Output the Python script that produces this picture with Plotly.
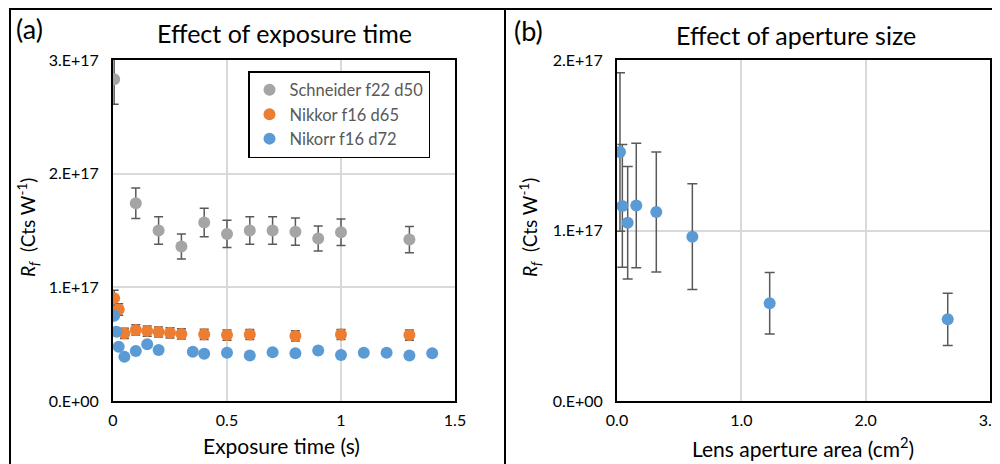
import plotly.graph_objects as go

# ---------------- data ----------------
# Panel (a): effect of exposure time
schneider_t = [0.005, 0.1, 0.2, 0.3, 0.4, 0.5, 0.6, 0.7, 0.8, 0.9, 1.0, 1.3]
schneider_rf = [2.83e17, 1.74e17, 1.50e17, 1.36e17, 1.57e17, 1.47e17, 1.50e17, 1.50e17, 1.49e17, 1.43e17, 1.485e17, 1.42e17]
schneider_err = [0.22e17, 0.135e17, 0.12e17, 0.11e17, 0.125e17, 0.12e17, 0.12e17, 0.12e17, 0.12e17, 0.11e17, 0.117e17, 0.115e17]

nikkor_t = [0.005, 0.025, 0.05, 0.1, 0.15, 0.2, 0.25, 0.3, 0.4, 0.5, 0.6, 0.8, 1.0, 1.3]
nikkor_rf = [0.905e17, 0.805e17, 0.595e17, 0.625e17, 0.615e17, 0.607e17, 0.600e17, 0.590e17, 0.587e17, 0.580e17, 0.585e17, 0.572e17, 0.585e17, 0.580e17]
nikkor_err = [0.07e17, 0.05e17, 0.045e17, 0.045e17, 0.045e17, 0.045e17, 0.045e17, 0.045e17, 0.045e17, 0.045e17, 0.045e17, 0.045e17, 0.045e17, 0.045e17]

nikorr_t = [0.005, 0.015, 0.025, 0.05, 0.1, 0.15, 0.2, 0.35, 0.4, 0.5, 0.6, 0.7, 0.8, 0.9, 1.0, 1.1, 1.2, 1.3, 1.4]
nikorr_rf = [0.75e17, 0.61e17, 0.478e17, 0.39e17, 0.44e17, 0.499e17, 0.449e17, 0.434e17, 0.416e17, 0.425e17, 0.40e17, 0.428e17, 0.42e17, 0.444e17, 0.405e17, 0.425e17, 0.425e17, 0.40e17, 0.42e17]

# Panel (b): effect of aperture size
aperture_area = [0.024, 0.043, 0.086, 0.155, 0.316, 0.606, 1.228, 2.66]
aperture_rf = [1.46e17, 1.144e17, 1.046e17, 1.147e17, 1.108e17, 0.964e17, 0.573e17, 0.479e17]
aperture_err = [0.465e17, 0.36e17, 0.33e17, 0.365e17, 0.352e17, 0.31e17, 0.18e17, 0.153e17]

series_names = ["Schneider f22 d50", "Nikkor f16 d65", "Nikorr f16 d72"]

ya_tickvals = [0, 1e17, 2e17, 3e17]
ya_ticktext = ["0.E+00", "1.E+17", "2.E+17", "3.E+17"]
xa_tickvals = [0, 0.5, 1, 1.5]
xa_ticktext = ["0", "0.5", "1", "1.5"]
yb_tickvals = [0, 1e17, 2e17]
yb_ticktext = ["0.E+00", "1.E+17", "2.E+17"]
xb_tickvals = [0, 1, 2, 3]
xb_ticktext = ["0.0", "1.0", "2.0", "3.0"]

# ---------------- styling ----------------
W, H = 1000, 464
OFF = 8  # page body margin offset
FONT = "Lato, 'Open Sans', sans-serif"
GRAY = "#A5A5A5"
ORANGE = "#ED7D31"
BLUE = "#5B9BD5"
ERRC = "#595959"


def px(x):
    return (x - OFF) / W


def py(y):
    return 1 - (y - OFF) / H


fig = go.Figure()

err_style = dict(type="data", visible=True, color=ERRC, thickness=1.5, width=4.5)

fig.add_trace(go.Scatter(
    x=schneider_t, y=schneider_rf, mode="markers", name=series_names[0],
    marker=dict(color=GRAY, size=12),
    error_y=dict(array=schneider_err, **err_style),
    xaxis="x", yaxis="y", legendgroup="g1"))
fig.add_trace(go.Scatter(
    x=nikkor_t, y=nikkor_rf, mode="markers", name=series_names[1],
    marker=dict(color=ORANGE, size=12),
    error_y=dict(array=nikkor_err, **err_style),
    xaxis="x", yaxis="y", legendgroup="g2"))
fig.add_trace(go.Scatter(
    x=nikorr_t, y=nikorr_rf, mode="markers", name=series_names[2],
    marker=dict(color=BLUE, size=12),
    xaxis="x", yaxis="y", legendgroup="g3"))

fig.add_trace(go.Scatter(
    x=aperture_area, y=aperture_rf, mode="markers", name="aperture",
    marker=dict(color=BLUE, size=12),
    error_y=dict(array=aperture_err, type="data", visible=True, color=ERRC, thickness=1.5, width=5),
    xaxis="x2", yaxis="y2", showlegend=False))

axis_common = dict(
    showline=True, linecolor="black", linewidth=2, mirror=True,
    showgrid=True, gridcolor="#D9D9D9", gridwidth=1.5, zeroline=False,
    tickfont=dict(family=FONT, size=16, color="#000000"),
    ticks="outside", tickcolor="rgba(0,0,0,0)", automargin=False,
)

fig.update_layout(
    width=W, height=H,
    margin=dict(l=0, r=0, t=0, b=0, autoexpand=False),
    paper_bgcolor="white", plot_bgcolor="white",
    font=dict(family=FONT, color="#000000"),
    xaxis=dict(domain=[px(113), px(455)], range=[0, 1.5], tickmode="array",
               tickvals=xa_tickvals, ticktext=xa_ticktext, ticklen=4, anchor="y", **axis_common),
    yaxis=dict(domain=[py(401), py(60)], range=[0, 3e17], tickmode="array",
               tickvals=ya_tickvals, ticktext=ya_ticktext, ticklen=9, anchor="x", **axis_common),
    xaxis2=dict(domain=[px(617), px(990)], range=[0, 3], tickmode="array",
                tickvals=xb_tickvals, ticktext=xb_ticktext, ticklen=4, anchor="y2", **axis_common),
    yaxis2=dict(domain=[py(401), py(60)], range=[0, 2e17], tickmode="array",
                tickvals=yb_tickvals, ticktext=yb_ticktext, ticklen=9, anchor="x2", **axis_common),
    showlegend=True,
    legend=dict(x=px(248), y=py(71), xanchor="left", yanchor="top",
                bordercolor="black", borderwidth=1.5, bgcolor="white",
                font=dict(family=FONT, size=16.5, color="#595959"),
                tracegroupgap=0, itemclick=False, itemwidth=30),
)

# panel borders
line_style = dict(color="black", width=2)
fig.add_shape(type="line", xref="paper", yref="paper", x0=px(10), x1=1.01, y0=1 - 1 / H, y1=1 - 1 / H, line=line_style)
fig.add_shape(type="line", xref="paper", yref="paper", x0=px(10), x1=px(10), y0=1, y1=-0.05, line=line_style)
fig.add_shape(type="line", xref="paper", yref="paper", x0=px(505), x1=px(505), y0=1, y1=-0.05, line=line_style)

ann = []
ann.append(dict(text="(a)", x=px(14), y=py(29), xanchor="left", yanchor="middle", font=dict(size=27)))
ann.append(dict(text="(b)", x=px(512), y=py(30), xanchor="left", yanchor="middle", font=dict(size=27)))
ann.append(dict(text="Effect of exposure time", x=px(284), y=py(33), xanchor="center", yanchor="middle", font=dict(size=25)))
ann.append(dict(text="Effect of aperture size", x=px(796), y=py(35), xanchor="center", yanchor="middle", font=dict(size=25)))
ann.append(dict(text="Exposure time (s)", x=px(281), y=py(445), xanchor="center", yanchor="middle", font=dict(size=21)))
ann.append(dict(text="Lens aperture area (cm<sup>2</sup>)", x=px(803), y=py(447), xanchor="center", yanchor="middle", font=dict(size=21)))
ytitle = "<i>R</i><sub><i>f</i></sub>  (Cts W<sup>-1</sup>)"
ann.append(dict(text=ytitle, x=px(28), y=py(228), xanchor="center", yanchor="middle", textangle=-90, font=dict(size=19)))
ann.append(dict(text=ytitle, x=px(530), y=py(228), xanchor="center", yanchor="middle", textangle=-90, font=dict(size=19)))
for a in ann:
    a.update(xref="paper", yref="paper", showarrow=False)
    a["font"].update(family=FONT, color="#000000")
fig.update_layout(annotations=ann)

fig.write_html("out.html")
